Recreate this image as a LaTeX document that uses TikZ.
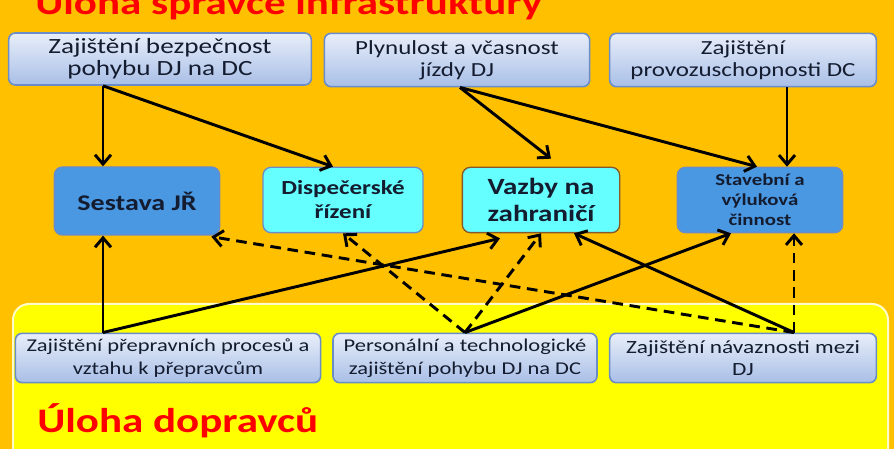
\documentclass[tikz,border=0pt]{standalone}
\usepackage{fontspec}
\setmainfont{Carlito}[FakeStretch=1.25]
\usetikzlibrary{shapes,arrows.meta,calc}

\definecolor{bg_orange}{HTML}{FFC000}
\definecolor{bg_yellow}{HTML}{FFFF00}
\definecolor{title_red}{HTML}{FF0000}
\definecolor{box_top}{HTML}{E8EEF9}
\definecolor{box_bot}{HTML}{A9BFE7}
\definecolor{box_line}{HTML}{6A8CC8}
\definecolor{box_text}{HTML}{141C30}
\definecolor{mid_blue}{HTML}{4A97E2}
\definecolor{mid_cyan}{HTML}{66FFFF}

\begin{document}
\begin{tikzpicture}[x=0.75pt, y=-0.75pt,
      block_task/.style ={rectangle, rounded corners=5pt, draw=box_line, line width=1.2pt,
        top color=box_top, bottom color=box_bot, text=box_text, align=center,
        inner sep=0pt, font=\fontsize{15}{16.5}\selectfont},
      block_blue/.style ={rectangle, rounded corners=6pt, draw=box_line, line width=1pt,
        fill=mid_blue, text=box_text, align=center, inner sep=0pt},
      block_cyan/.style ={rectangle, rounded corners=6pt, draw=box_line, line width=1pt,
        fill=mid_cyan, text=box_text, align=center, inner sep=0pt},
      block_title/.style ={anchor=base west, text=title_red, inner sep=0pt,
        font=\bfseries\fontsize{25.8}{28}\selectfont},
      line/.style ={draw, line width=2.2pt, -{Straight Barb[length=7pt,width=12pt]}},
      line_dashed/.style ={line, dash pattern=on 8pt off 5pt}]
    %
    % 1. background areas
    \useasboundingbox (0,0) rectangle (894,449);
    \clip (0,0) rectangle (894,449);
    \fill[bg_orange] (0,0) rectangle (894,449);
    \draw[draw=white!80!yellow, line width=1.5pt, fill=bg_yellow, rounded corners=12pt]
      (13,304) rectangle (888,480);
    \node[block_title] (title_infra) at (35,15) {Úloha správce infrastruktury};
    \node[block_title] (title_carrier) at (37,432) {Úloha dopravců};
    %
    % 2. tasks of the infrastructure manager - row 1
    \node[block_task, minimum width=227pt, minimum height=39pt,
      font=\fontsize{16.3}{16.5}\selectfont] (bezp) at (160,59)
      {Zajištění bezpečnost\\pohybu DJ na DC};
    \node[block_task, minimum width=199pt, minimum height=40pt] (plyn) at (457,60)
      {Plynulost a včasnost\\jízdy DJ};
    \node[block_task, minimum width=200pt, minimum height=40pt] (provoz) at (743,60)
      {Zajištění\\provozuschopnosti DC};
    % activities - row 2
    \node[block_blue, minimum width=124pt, minimum height=51pt,
      font=\bfseries\fontsize{16.8}{19}\selectfont] (sestava) at (137,201) {Sestava JŘ};
    \node[block_cyan, minimum width=120pt, minimum height=49pt,
      font=\bfseries\fontsize{15}{18}\selectfont] (disp) at (343,200) {Dispečerské\\řízení};
    \node[block_cyan, draw=brown!70!black, minimum width=118pt, minimum height=49pt,
      font=\bfseries\fontsize{17.4}{20}\selectfont] (vazby) at (541,200) {Vazby na\\zahraničí};
    \node[block_blue, minimum width=124pt, minimum height=49pt,
      font=\bfseries\fontsize{12.5}{15}\selectfont] (stav) at (760,200)
      {Stavební a\\výluková\\činnost};
    % tasks of the carriers - row 3
    \node[block_task, minimum width=229pt, minimum height=37pt,
      font=\fontsize{13.5}{17}\selectfont] (prep) at (168,358)
      {Zajištění přepravních procesů a\\vztahu k přepravcům};
    \node[block_task, minimum width=198pt, minimum height=37pt,
      font=\fontsize{13.5}{17}\selectfont] (pers) at (465,358)
      {Personální a technologické\\zajištění pohybu DJ na DC};
    \node[block_task, minimum width=200pt, minimum height=37pt,
      font=\fontsize{14}{17}\selectfont] (navaz) at (743,358)
      {Zajištění návaznosti  mezi\\DJ};
    %
    % 3. connecting nodes with paths
    \begin{scope}[every path/.style=line]
      % from the top row
      \path ($(bezp.south)+(-57,0)$) -- ($(sestava.north)+(-34,0)$);
      \path ($(bezp.south)+(-57,0)$) -- ($(disp.north)+(-10,0)$);
      \path ($(plyn.south)+(3,0)$) -- ($(vazby.north)+(10,-8)$);
      \path ($(plyn.south)+(3,0)$) -- ($(stav.north)+(-3,0)$);
      \path ($(provoz.south)+(44,0)$) -- ($(stav.north)+(27,0)$);
      % from the bottom row
      \path ($(prep.north)+(-65,0)$) -- ($(sestava.south)+(-34,0)$);
      \path ($(prep.north)+(-65,0)$) -- ($(vazby.south)+(-41,5)$);
      \path (pers.north) -- ($(stav.south)+(-29,0)$);
      \path ($(navaz.north)+(51,0)$) -- ($(vazby.south)+(33,0)$);
    \end{scope}
    \begin{scope}[every path/.style=line_dashed]
      \path ($(navaz.north)+(51,0)$) -- ($(sestava.south east)+(-9,1)$);
      \path (pers.north) -- (disp.south);
      \path (pers.north) -- (vazby.south);
      \path ($(navaz.north)+(51,0)$) -- ($(stav.south)+(34,0)$);
    \end{scope}
  \end{tikzpicture}
\end{document}
